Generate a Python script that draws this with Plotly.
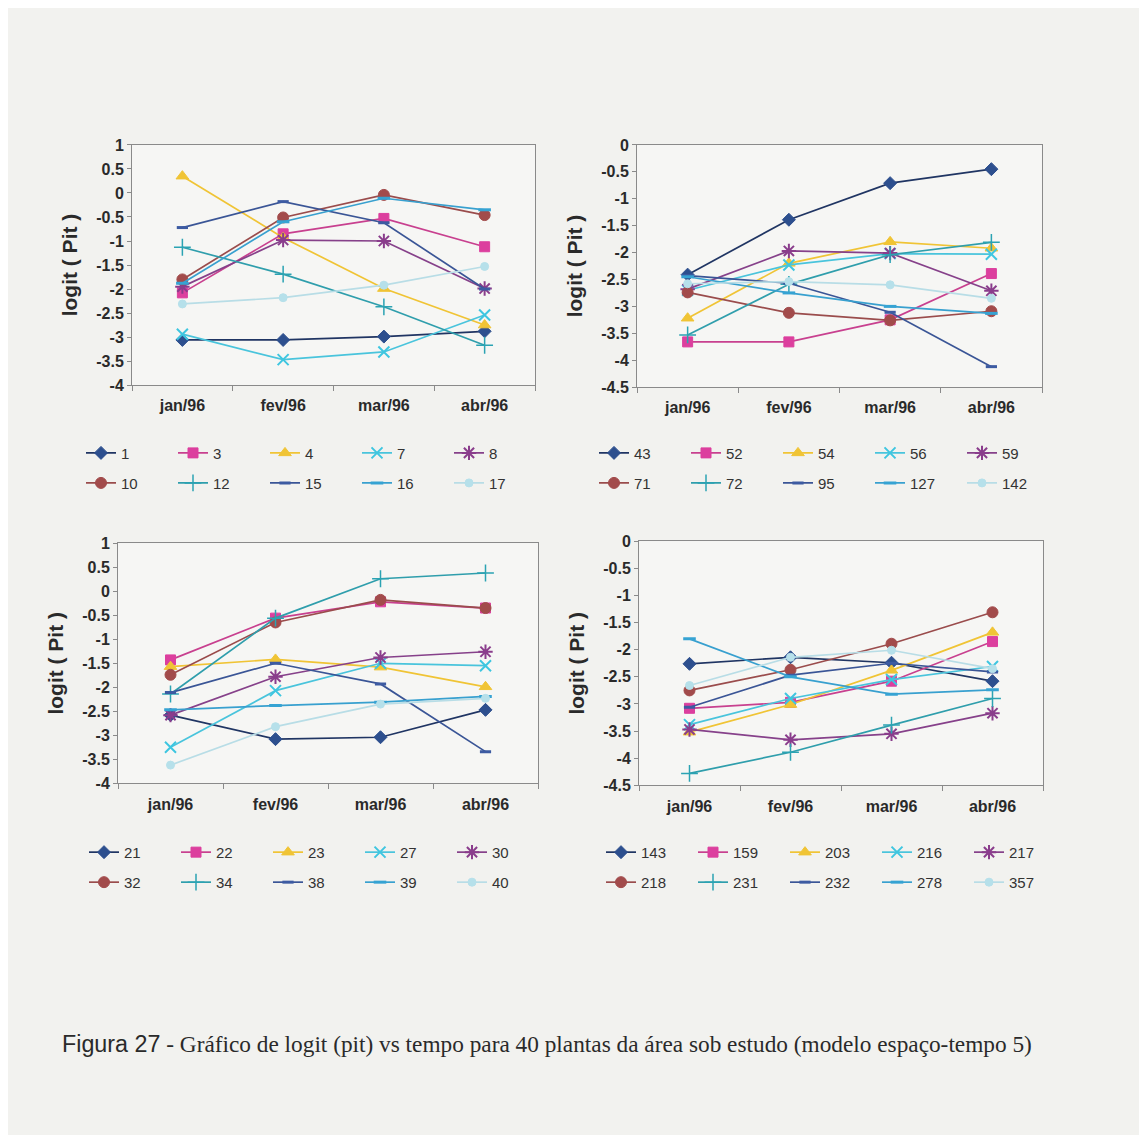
import plotly.graph_objects as go

# ---------------- data ----------------
months = ["jan/96", "fev/96", "mar/96", "abr/96"]

p1_names = ["1", "3", "4", "7", "8", "10", "12", "15", "16", "17"]
p1_values = [
    [-3.06, -3.06, -2.99, -2.88],
    [-2.08, -0.85, -0.53, -1.12],
    [0.35, -0.93, -1.99, -2.75],
    [-2.94, -3.47, -3.31, -2.54],
    [-1.95, -0.98, -1.00, -1.99],
    [-1.80, -0.51, -0.04, -0.46],
    [-1.13, -1.69, -2.37, -3.17],
    [-0.72, -0.18, -0.62, -2.00],
    [-1.88, -0.60, -0.11, -0.35],
    [-2.31, -2.18, -1.92, -1.53],
]

p2_names = ["43", "52", "54", "56", "59", "71", "72", "95", "127", "142"]
p2_values = [
    [-2.41, -1.39, -0.71, -0.45],
    [-3.66, -3.66, -3.25, -2.39],
    [-3.22, -2.20, -1.80, -1.92],
    [-2.70, -2.23, -2.02, -2.03],
    [-2.68, -1.97, -2.01, -2.71],
    [-2.74, -3.12, -3.26, -3.09],
    [-3.53, -2.59, -2.04, -1.81],
    [-2.43, -2.57, -3.11, -4.12],
    [-2.45, -2.75, -3.00, -3.13],
    [-2.58, -2.54, -2.60, -2.85],
]

p3_names = ["21", "22", "23", "27", "30", "32", "34", "38", "39", "40"]
p3_values = [
    [-2.58, -3.08, -3.04, -2.47],
    [-1.43, -0.56, -0.22, -0.35],
    [-1.57, -1.42, -1.58, -1.99],
    [-3.25, -2.07, -1.50, -1.55],
    [-2.58, -1.78, -1.38, -1.26],
    [-1.74, -0.65, -0.18, -0.35],
    [-2.14, -0.56, 0.26, 0.38],
    [-2.11, -1.50, -1.93, -3.34],
    [-2.47, -2.38, -2.31, -2.19],
    [-3.62, -2.82, -2.35, -2.23],
]

p4_names = ["143", "159", "203", "216", "217", "218", "231", "232", "278", "357"]
p4_values = [
    [-2.26, -2.14, -2.24, -2.58],
    [-3.08, -2.97, -2.58, -1.85],
    [-3.52, -3.01, -2.38, -1.68],
    [-3.38, -2.90, -2.55, -2.31],
    [-3.47, -3.66, -3.55, -3.17],
    [-2.75, -2.37, -1.89, -1.31],
    [-4.28, -3.89, -3.39, -2.90],
    [-3.06, -2.47, -2.25, -2.41],
    [-1.80, -2.50, -2.82, -2.74],
    [-2.66, -2.14, -2.01, -2.35],
]

yticks_a = [1, 0.5, 0, -0.5, -1, -1.5, -2, -2.5, -3, -3.5, -4]
yticks_b = [0, -0.5, -1, -1.5, -2, -2.5, -3, -3.5, -4, -4.5]

y_title = "logit ( Pit )"
caption = ("<span style='font-family:Arial, Liberation Sans'>Figura 27</span> - Gráfico de logit (pit) "
           "vs tempo para 40 plantas da área sob estudo (modelo espaço-tempo 5)")

# ---------------- styles ----------------
colors = ["#2d4f8e", "#dc3f9e", "#f0c435", "#3ec6e0", "#8a3d8c",
          "#a24b4b", "#2ba3b3", "#3d5ba2", "#36a3d3", "#b6e0ea"]
line_colors = ["#203563", "#c8408f", "#f0c435", "#49c4dc", "#86418a",
               "#9a4c4c", "#2f9eac", "#3a5596", "#38a0cf", "#b8dde6"]
symbols = ["diamond", "square", "triangle-up", "x-thin-open", "asterisk-open",
           "circle", "cross-thin-open", "line-ew-open", "line-ew-open", "circle"]
sizes = [10, 10, 11, 11, 12, 11, 12, 8, 9, 8]
mwidth = [1, 1, 1, 2, 2, 1, 1.5, 3, 3, 1]

W, H = 1147, 1135
OFF_X, OFF_Y = 8, 8   # page body margin offset
def px(x):
    return (x - OFF_X) / W
def py(y):
    # target pixel row -> paper fraction (with empirical vertical correction)
    y_set = 145 + (y - 151) / 0.9844
    return 1 - (y_set - OFF_Y) / H

# plot-area pixel boxes: (left, right, top, bottom)
boxes = [(132, 535, 145, 385), (637, 1042, 145, 387),
         (118, 538, 543, 783), (639, 1043, 541, 785)]
panels = [(p1_names, p1_values, yticks_a), (p2_names, p2_values, yticks_b),
          (p3_names, p3_values, yticks_a), (p4_names, p4_values, yticks_b)]
legend_pos = [(87, 453, 483), (600, 453, 483), (90, 852, 882), (607, 852, 882)]
title_standoff = [12, 12, 12, 12]

fig = go.Figure()
layout = dict(
    width=W, height=H,
    margin=dict(l=0, r=0, t=0, b=0),
    paper_bgcolor="#f2f2ef",
    plot_bgcolor="#f6f6f4",
    font=dict(family="Arial, Liberation Sans", color="#2a2a2a"),
    showlegend=True,
)

leg_idx = 1
for i, ((names, vals, yt), box) in enumerate(zip(panels, boxes)):
    xa = "x" if i == 0 else f"x{i+1}"
    ya = "y" if i == 0 else f"y{i+1}"
    la, lb = f"legend{'' if leg_idx == 1 else leg_idx}", f"legend{leg_idx+1}"
    for k, (nm, v) in enumerate(zip(names, vals)):
        fig.add_trace(go.Scatter(
            x=months, y=v, name=nm, mode="lines+markers",
            xaxis=xa, yaxis=ya,
            legend=la if k < 5 else lb,
            line=dict(color=line_colors[k], width=1.7),
            marker=dict(symbol=symbols[k], size=sizes[k], color=colors[k],
                        line=dict(color=colors[k], width=mwidth[k])),
        ))
    l, r, t, b = box
    xkey = "xaxis" if i == 0 else f"xaxis{i+1}"
    ykey = "yaxis" if i == 0 else f"yaxis{i+1}"
    layout[xkey] = dict(
        domain=[px(l), px(r)], anchor=ya, type="category",
        categoryorder="array", categoryarray=months, range=[-0.5, 3.5],
        showline=True, linecolor="#8a8a8a", linewidth=1, mirror=True,
        ticks="outside", tickson="boundaries", ticklen=5, tickcolor="#8a8a8a",
        showgrid=False, zeroline=False, ticklabelstandoff=6,
        tickfont=dict(size=16, weight="bold", color="#2a2a2a"),
    )
    layout[ykey] = dict(
        domain=[py(b), py(t)], anchor=xa,
        range=[min(yt), max(yt)],
        tickvals=yt, ticktext=[f"{v:g}" for v in yt],
        showline=True, linecolor="#8a8a8a", linewidth=1, mirror=True,
        ticks="outside", ticklen=4, tickcolor="#8a8a8a",
        showgrid=False, zeroline=False,
        tickfont=dict(size=16, weight="bold", color="#2a2a2a"),
        title=dict(text=y_title, font=dict(size=21, weight="bold", color="#2a2a2a"),
                   standoff=title_standoff[i]),
    )
    lx, r1, r2 = legend_pos[i]
    for key, ry in ((la, r1), (lb, r2)):
        layout[key] = dict(
            orientation="h", x=px(lx - 6), xanchor="left",
            y=py(ry), yanchor="middle",
            bgcolor="rgba(0,0,0,0)", borderwidth=0,
            entrywidth=47, entrywidthmode="pixels",
            font=dict(size=15, color="#333333"),
            itemwidth=30, tracegroupgap=0,
        )
    leg_idx += 2

layout["annotations"] = [dict(
    text=caption, x=px(60), y=py(1043), xref="paper", yref="paper",
    xanchor="left", yanchor="middle", showarrow=False,
    font=dict(family="Liberation Serif, Times New Roman", size=23.3, color="#2a2a2a"),
)]

fig.update_layout(**layout)
fig.write_html("out.html")
